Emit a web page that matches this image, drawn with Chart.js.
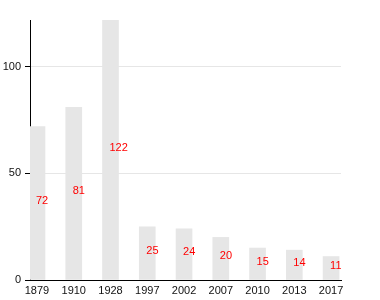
<!DOCTYPE html>
<html>
<head>
<meta charset="utf-8">
<script src="https://cdn.jsdelivr.net/npm/chart.js@4"></script>
<style>
  html, body { margin: 0; padding: 0; background: #fff; }
  #wrap { width: 380px; height: 300px; }
</style>
</head>
<body>
<div id="wrap"><canvas id="myChart"></canvas></div>
<script>
const years = ["1879", "1910", "1928", "1997", "2002", "2007", "2010", "2013", "2017"];
const counts = [72, 81, 122, 25, 24, 20, 15, 14, 11];
const yTicks = [0, 50, 100];

const FONT = "Liberation Sans, Arial, sans-serif";

// red value labels, drawn left-aligned from the bar centre at half height
const valueLabels = {
    id: "valueLabels",
    afterDatasetsDraw(chart) {
        const ctx = chart.ctx;
        const area = chart.chartArea;
        const meta = chart.getDatasetMeta(0);
        ctx.save();
        ctx.beginPath();
        ctx.rect(area.left, 0, area.right - area.left, chart.height);
        ctx.clip();
        ctx.fillStyle = "red";
        ctx.font = "11px " + FONT;
        ctx.textAlign = "left";
        ctx.textBaseline = "alphabetic";
        meta.data.forEach((bar, i) => {
            ctx.fillText(String(counts[i]), bar.x - 1, (bar.y + bar.base) / 2 + 1);
        });
        ctx.restore();
    }
};

new Chart(document.getElementById("myChart").getContext("2d"), {
    type: "bar",
    data: {
        datasets: [{
            data: counts.map((v, i) => ({ x: i, y: v })),
            backgroundColor: "#e6e6e6",
            barThickness: 16
        }]
    },
    plugins: [valueLabels],
    options: {
        responsive: true,
        maintainAspectRatio: false,
        animation: false,
        layout: { padding: { top: 20, right: 39, left: 0, bottom: 0 } },
        plugins: { legend: { display: false }, tooltip: { enabled: false } },
        scales: {
            x: {
                type: "linear",
                offset: false,
                min: -0.19,
                max: 8.27,
                afterBuildTicks(scale) { scale.ticks = years.map((y, i) => ({ value: i })); },
                afterFit(scale) { scale.height = 20; },
                grid: { display: false, drawTicks: false, offset: false },
                border: { display: true, color: "#000", width: 1 },
                ticks: {
                    padding: 4,
                    color: "#111",
                    font: { family: FONT, size: 11 },
                    maxRotation: 0,
                    autoSkip: false,
                    callback: (v) => years[v]
                }
            },
            y: {
                min: 0,
                max: 122,
                afterBuildTicks(scale) { scale.ticks = yTicks.map(v => ({ value: v })); },
                afterFit(scale) { scale.width = 30; },
                grid: { color: "#e6e6e6", tickColor: "#000", tickLength: 5 },
                border: { color: "#000", width: 1 },
                ticks: {
                    padding: 4,
                    color: "#111",
                    font: { family: FONT, size: 11 }
                }
            }
        }
    }
});
</script>
</body>
</html>
